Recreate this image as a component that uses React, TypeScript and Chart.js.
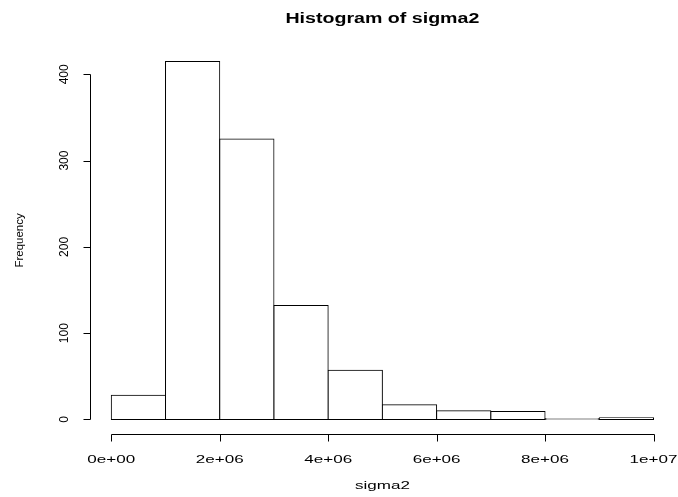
import React, { useEffect, useRef } from "react";
import { Chart, registerables } from "chart.js";

Chart.register(...registerables);

// Histogram bins (bin centres) and counts
const binCenters = [500000, 1500000, 2500000, 3500000, 4500000, 5500000, 6500000, 7500000, 8500000, 9500000];
const counts = [28, 415, 325, 132, 57, 17, 10, 9, 1, 2];

const xTicks = [0, 2000000, 4000000, 6000000, 8000000, 10000000];
const xTickLabels = ["0e+00", "2e+06", "4e+06", "6e+06", "8e+06", "1e+07"];
const yTicks = [0, 100, 200, 300, 400];
const yTickLabels = ["0", "100", "200", "300", "400"];

const title = "Histogram of sigma2";
const xLabel = "sigma2";
const yLabel = "Frequency";

const FONT = '"Liberation Sans", Arial, Helvetica, sans-serif';

function drawText(
  ctx: CanvasRenderingContext2D,
  text: string,
  x: number,
  y: number,
  font: string,
  sx: number,
  rot: number,
  align: CanvasTextAlign,
  baseline: CanvasTextBaseline
) {
  ctx.save();
  ctx.translate(x, y);
  if (rot) ctx.rotate(rot);
  ctx.scale(sx, 1);
  ctx.font = font;
  ctx.fillStyle = "#000";
  ctx.textAlign = align;
  ctx.textBaseline = baseline;
  ctx.fillText(text, 0, 0);
  ctx.restore();
}

const rAxesPlugin = {
  id: "rAxes",
  afterDraw(chart: any) {
    const ctx: CanvasRenderingContext2D = chart.ctx;
    const xs = chart.scales.x;
    const ys = chart.scales.y;
    const area = chart.chartArea;
    ctx.save();
    ctx.strokeStyle = "#000";
    ctx.lineWidth = 1;

    // y axis
    const ax = Math.round(area.left) + 0.5;
    const y0 = ys.getPixelForValue(yTicks[0]);
    const y1 = ys.getPixelForValue(yTicks[yTicks.length - 1]);
    ctx.beginPath();
    ctx.moveTo(ax, Math.round(y0) + 0.5);
    ctx.lineTo(ax, Math.round(y1) + 0.5);
    yTicks.forEach((v) => {
      const py = Math.round(ys.getPixelForValue(v)) + 0.5;
      ctx.moveTo(ax, py);
      ctx.lineTo(ax - 7, py);
    });
    ctx.stroke();

    // x axis
    const ay = Math.round(area.bottom) + 0.5;
    const x0 = xs.getPixelForValue(xTicks[0]);
    const x1 = xs.getPixelForValue(xTicks[xTicks.length - 1]);
    ctx.beginPath();
    ctx.moveTo(Math.round(x0) + 0.5, ay);
    ctx.lineTo(Math.round(x1) + 0.5, ay);
    xTicks.forEach((v) => {
      const px = Math.round(xs.getPixelForValue(v)) + 0.5;
      ctx.moveTo(px, ay);
      ctx.lineTo(px, ay + 7);
    });
    ctx.stroke();
    ctx.restore();

    // tick labels
    xTicks.forEach((v, i) => {
      drawText(ctx, xTickLabels[i], xs.getPixelForValue(v), ay + 28, `11px ${FONT}`, 1.55, 0, "center", "alphabetic");
    });
    yTicks.forEach((v, i) => {
      drawText(ctx, yTickLabels[i], ax - 23, ys.getPixelForValue(v), `12px ${FONT}`, 1, -Math.PI / 2, "center", "alphabetic");
    });

    // titles
    const cx = (area.left + area.right) / 2;
    const cy = (area.top + area.bottom) / 2;
    drawText(ctx, title, cx, 23, `bold 14px ${FONT}`, 1.4, 0, "center", "alphabetic");
    drawText(ctx, xLabel, cx, 489, `11px ${FONT}`, 1.55, 0, "center", "alphabetic");
    drawText(ctx, yLabel, 23, cy, `11.5px ${FONT}`, 1, -Math.PI / 2, "center", "alphabetic");
  },
};

export default function App() {
  const ref = useRef<HTMLCanvasElement | null>(null);

  useEffect(() => {
    if (!ref.current) return;
    const maxCount = Math.max(...counts);
    const chart = new Chart(ref.current, {
      type: "bar",
      data: {
        datasets: [
          {
            data: binCenters.map((x, i) => ({ x, y: counts[i] })),
            backgroundColor: "#ffffff",
            borderColor: "#000000",
            borderWidth: 1,
            borderSkipped: false,
            inflateAmount: 0.5,
            barPercentage: 1,
            categoryPercentage: 1,
          },
        ],
      },
      options: {
        animation: false,
        responsive: false,
        events: [],
        layout: { padding: { left: 89.6, right: 2.8, top: 47.1, bottom: 63.3 } },
        plugins: { legend: { display: false }, tooltip: { enabled: false }, title: { display: false } },
        scales: {
          x: {
            type: "linear",
            display: false,
            offset: false,
            min: xTicks[0] - 0.04 * (xTicks[xTicks.length - 1] - xTicks[0]),
            max: xTicks[xTicks.length - 1] + 0.04 * (xTicks[xTicks.length - 1] - xTicks[0]),
            afterBuildTicks: (axis: any) => {
              axis.ticks = xTicks.map((value) => ({ value }));
            },
          },
          y: {
            type: "linear",
            display: false,
            min: -0.04 * maxCount,
            max: maxCount * 1.04,
            afterBuildTicks: (axis: any) => {
              axis.ticks = yTicks.map((value) => ({ value }));
            },
          },
        },
      },
      plugins: [rAxesPlugin],
    } as any);
    return () => chart.destroy();
  }, []);

  return (
    <div style={{ position: "absolute", left: 0, top: 0, width: 678, height: 497, background: "#fff" }}>
      <canvas ref={ref} width={678} height={497} style={{ display: "block", width: 678, height: 497 }} />
    </div>
  );
}
